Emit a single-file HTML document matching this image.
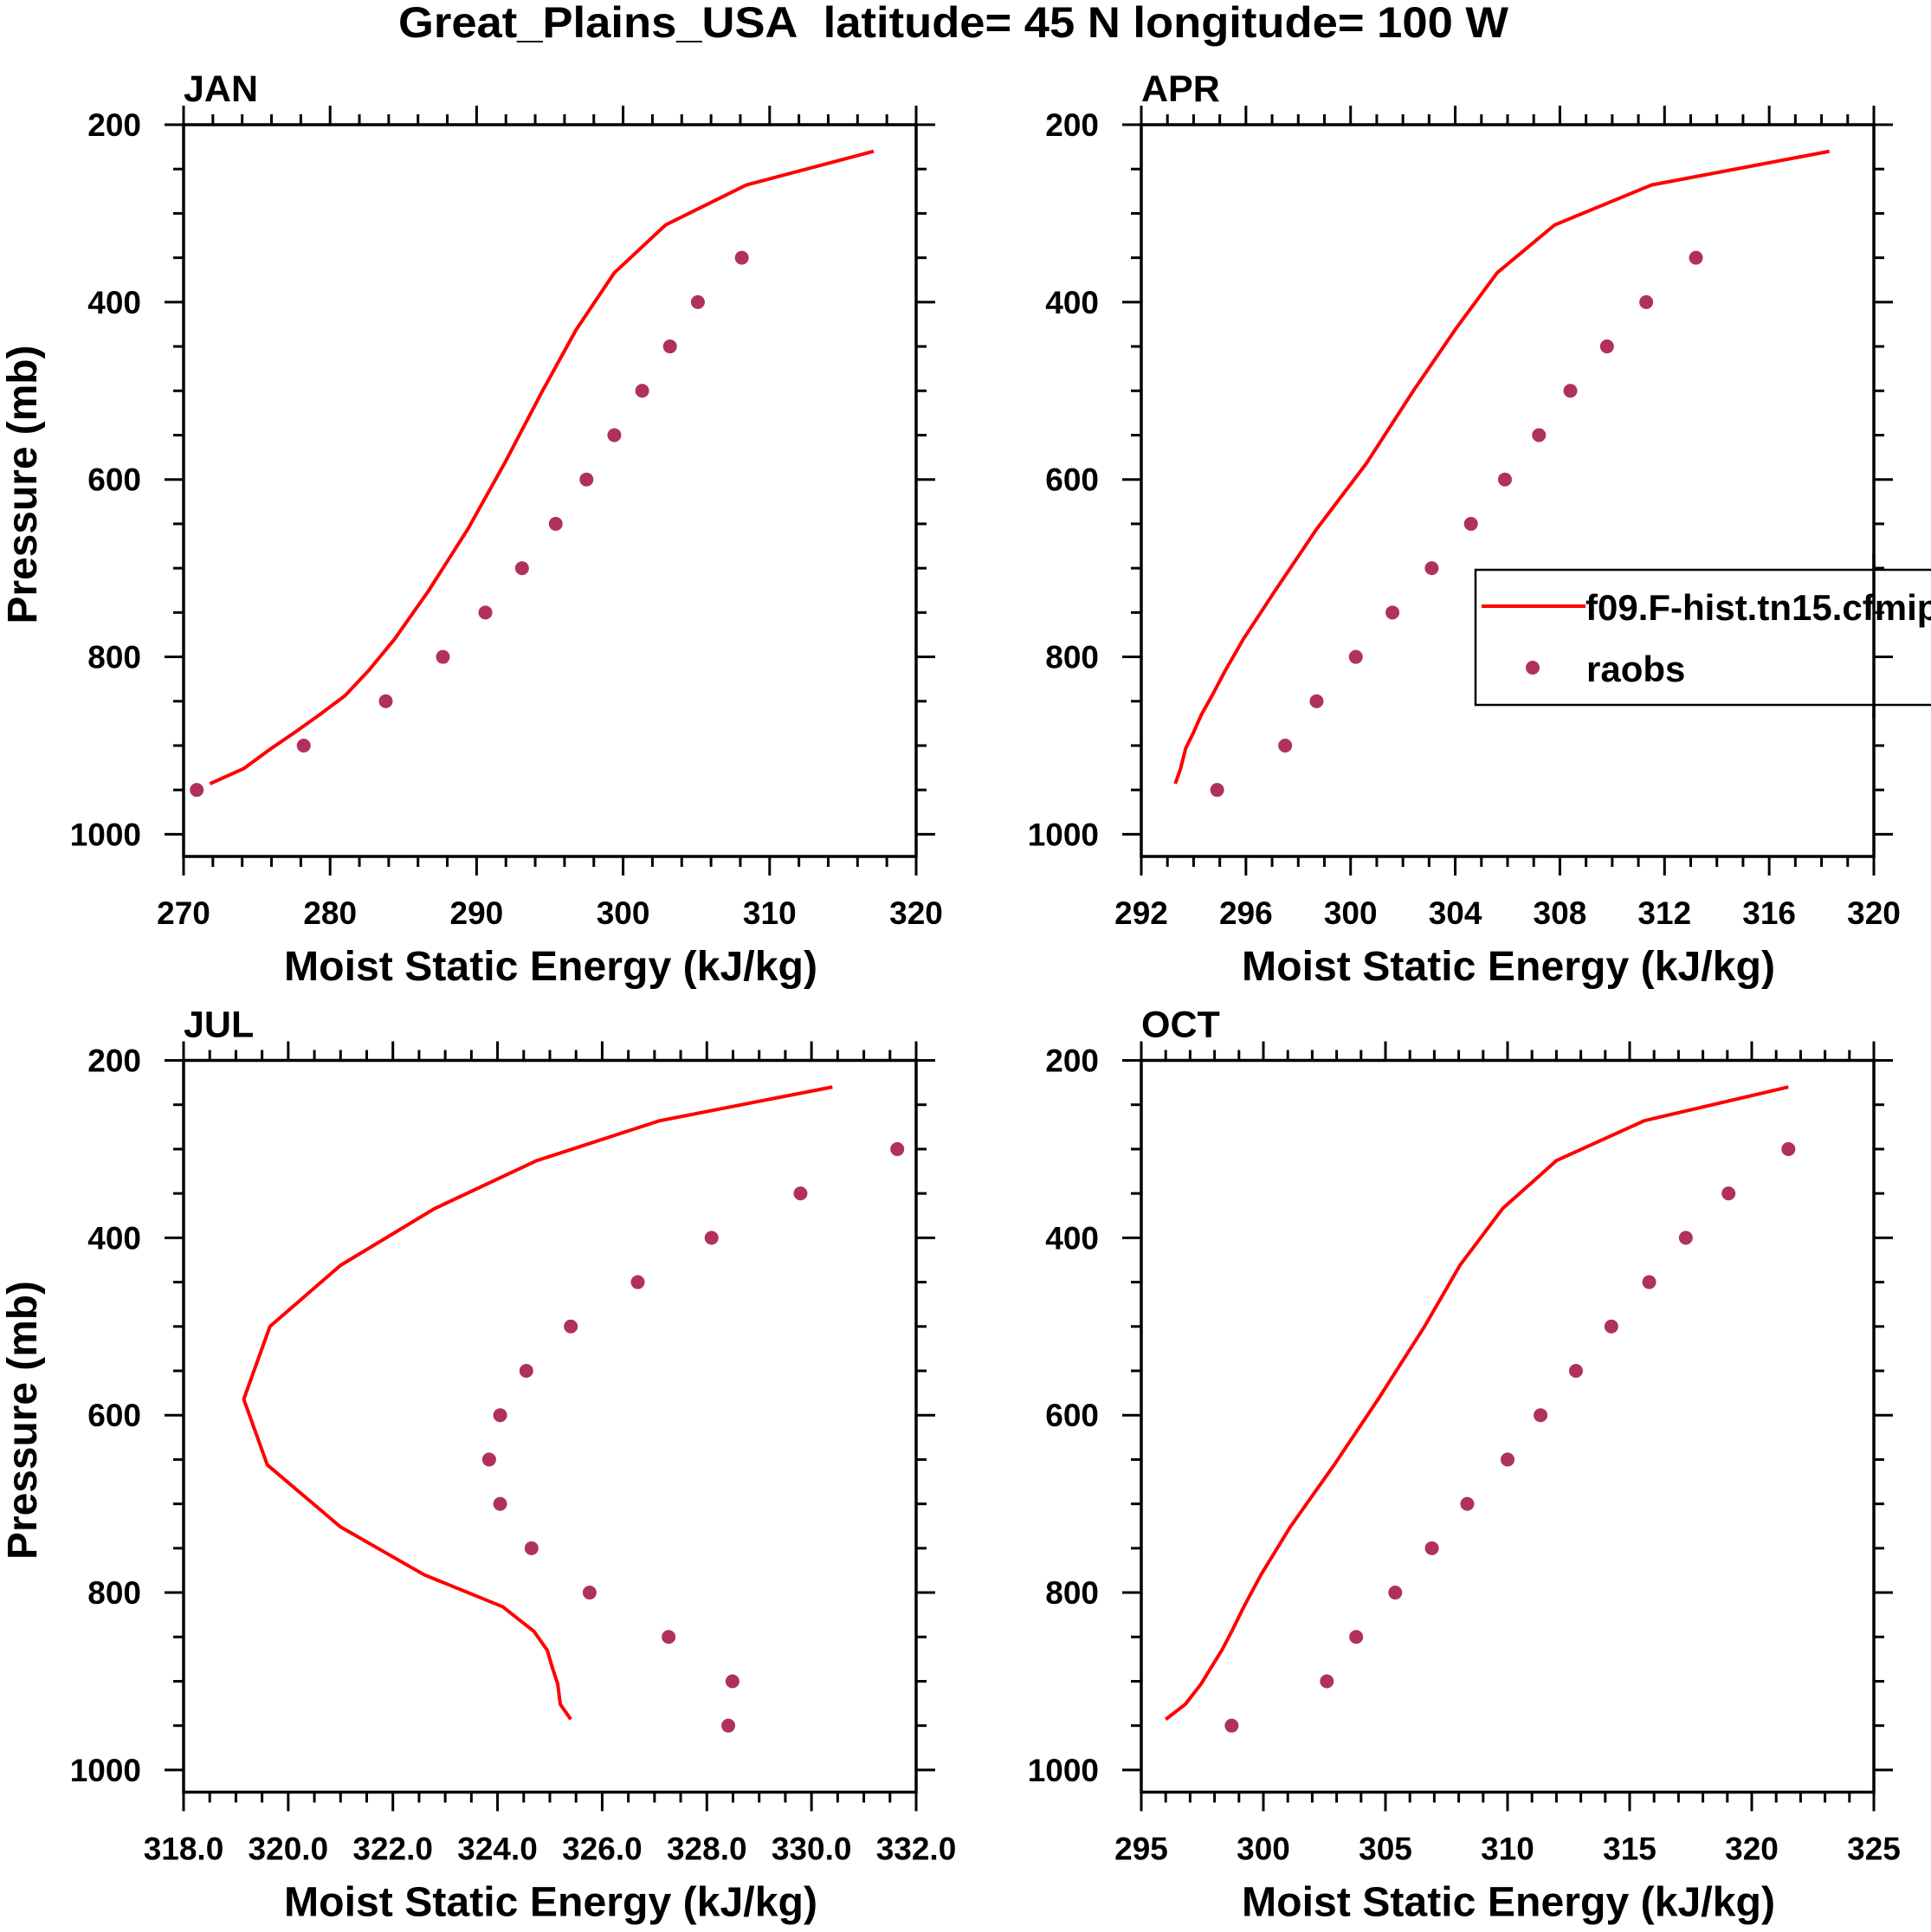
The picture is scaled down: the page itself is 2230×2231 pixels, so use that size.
<!DOCTYPE html>
<html><head><meta charset="utf-8"><style>html,body{margin:0;padding:0;background:#fff}svg{display:block}text{font-family:"Liberation Sans",sans-serif;font-weight:bold;fill:#000;white-space:pre}</style></head>
<body>
<svg id="fig" width="2230" height="2231" viewBox="0 0 2230 2231" xmlns="http://www.w3.org/2000/svg">
<rect width="2230" height="2231" fill="#fff"/>
<text x="1101" y="43" font-size="50" text-anchor="middle" textLength="1282" lengthAdjust="spacingAndGlyphs" xml:space="preserve">Great_Plains_USA&#160; latitude= 45 N longitude= 100 W</text>
</svg>
<script>
const pLevels=[230,268,313,367,431,500,582,656,726,780,816,844,865,885,903,926,943];
const janModel=[317.1,308.4,302.9,299.4,296.8,294.5,291.9,289.4,286.7,284.4,282.6,281.0,279.3,277.6,276.0,274.1,271.8];
const aprModel=[318.3,311.5,307.8,305.6,304.0,302.4,300.6,298.7,297.1,295.9,295.2,294.7,294.3,294.0,293.7,293.5,293.3];
const julModel=[330.4,327.1,324.75,322.8,321.0,319.65,319.15,319.6,321.0,322.6,324.1,324.7,324.95,325.05,325.15,325.2,325.4];
const octModel=[321.5,315.6,312.0,309.8,308.05,306.6,304.7,302.9,301.1,299.9,299.2,298.7,298.3,297.85,297.45,296.8,296.0];
const obsP350=[350,400,450,500,550,600,650,700,750,800,850,900,950];
const obsP300=[300,350,400,450,500,550,600,650,700,750,800,850,900,950];
const janObs=[308.1,305.1,303.2,301.3,299.4,297.5,295.4,293.1,290.6,287.7,283.8,278.2,270.9];
const aprObs=[313.2,311.3,309.8,308.4,307.2,305.9,304.6,303.1,301.6,300.2,298.7,297.5,294.9];
const julObs=[331.64,329.79,328.09,326.68,325.4,324.55,324.05,323.84,324.05,324.65,325.76,327.27,328.49,328.41];
const octObs=[321.5,319.05,317.3,315.8,314.25,312.8,311.35,310.0,308.35,306.9,305.4,303.8,302.6,298.7];
const yTickLabels=["200","400","600","800","1000"];
const janXTicks=["270","280","290","300","310","320"];
const aprXTicks=["292","296","300","304","308","312","316","320"];
const julXTicks=["318.0","320.0","322.0","324.0","326.0","328.0","330.0","332.0"];
const octXTicks=["295","300","305","310","315","320","325"];

const NS="http://www.w3.org/2000/svg";
const svg=document.getElementById('fig');
function mk(tag,attrs,parent){const e=document.createElementNS(NS,tag);for(const k in attrs)e.setAttribute(k,attrs[k]);(parent||svg).appendChild(e);return e;}
const panels=[
 {name:'jan',label:'JAN',L:212,T:144,xmin:270,xmax:320,minor:2,ticks:janXTicks,model:janModel,obsP:obsP350,obs:janObs},
 {name:'apr',label:'APR',L:1318,T:144,xmin:292,xmax:320,minor:1,ticks:aprXTicks,model:aprModel,obsP:obsP350,obs:aprObs,legend:true},
 {name:'jul',label:'JUL',L:212,T:1224.5,xmin:318,xmax:332,minor:0.5,ticks:julXTicks,model:julModel,obsP:obsP300,obs:julObs},
 {name:'oct',label:'OCT',L:1318,T:1224.5,xmin:295,xmax:325,minor:1,ticks:octXTicks,model:octModel,obsP:obsP300,obs:octObs}
];
const W=846,H=845,PMIN=200,PMAX=1025;
panels.forEach(pn=>{
 const g=mk('g',{});
 
 
 const xs=v=>pn.L+(v-pn.xmin)/(pn.xmax-pn.xmin)*W;
 const ys=p=>pn.T+(p-PMIN)/(PMAX-PMIN)*H;
 const B=pn.T+H,R=pn.L+W;
 const tg=mk('g',{stroke:'#000','stroke-width':3},g);
 
 
 const n=Math.round((pn.xmax-pn.xmin)/pn.minor);
 const majStep=(pn.xmax-pn.xmin)/(pn.ticks.length-1);
 for(let i=0;i<=n;i++){const v=pn.xmin+i*pn.minor;const major=Math.abs(((v-pn.xmin)/majStep)-Math.round((v-pn.xmin)/majStep))<1e-6;const len=major?22:12;const x=xs(v);
  mk('line',{x1:x,x2:x,y1:B,y2:B+len},tg);mk('line',{x1:x,x2:x,y1:pn.T,y2:pn.T-len},tg);}
 for(let p=200;p<=1000;p+=50){const major=p%200===0;const len=major?22:12;const y=ys(p);
  mk('line',{x1:pn.L,x2:pn.L-len,y1:y,y2:y},tg);mk('line',{x1:R,x2:R+len,y1:y,y2:y},tg);}
 pn.ticks.forEach((t,i)=>{const v=pn.xmin+i*majStep;const e=mk('text',{x:xs(v),y:B+78,'font-size':37,'text-anchor':'middle'},g);e.textContent=t;
  
  });
 yTickLabels.forEach((t,i)=>{const e=mk('text',{x:pn.L-49,y:ys(200+i*200)+13,'font-size':37,'text-anchor':'end'},g);e.textContent=t;
  
  });
 const fr=mk('rect',{x:pn.L,y:pn.T,width:W,height:H,fill:'none',stroke:'#000','stroke-width':3.5},g);
 
 
 const pts=pn.model.map((v,i)=>xs(v)+','+ys(pLevels[i])).join(' ');
 const pl=mk('polyline',{points:pts,fill:'none',stroke:'#ff0000','stroke-width':4,'stroke-linejoin':'round'},g);
 
 
 pn.obs.forEach((v,i)=>{const c=mk('circle',{cx:xs(v),cy:ys(pn.obsP[i]),r:8,fill:'#b03060'},g);
  
  });
 const lb=mk('text',{x:pn.L,y:pn.T-27,'font-size':43},g);lb.textContent=pn.label;
 
 
 const xt=mk('text',{x:pn.L+W/2+1,y:B+143,'font-size':48,'text-anchor':'middle',textLength:616,lengthAdjust:'spacingAndGlyphs'},g);xt.textContent='Moist Static Energy (kJ/kg)';
 
 
 if(pn.L<1000){const cy=pn.T+H/2-7;const yt=mk('text',{x:0,y:0,'font-size':48,'text-anchor':'middle',transform:'translate(42,'+cy+') rotate(-90)',textLength:322,lengthAdjust:'spacingAndGlyphs'},g);yt.textContent='Pressure (mb)';
  
  }
 if(pn.legend){const lg=mk('g',{},g);
  
  
  mk('rect',{x:1704,y:658,width:560,height:156,fill:'#fff',stroke:'#000','stroke-width':2.5},lg);
  mk('line',{x1:1711,x2:1831,y1:700,y2:700,stroke:'#ff0000','stroke-width':4},lg);
  const t1=mk('text',{x:1831,y:716,'font-size':42},lg);t1.textContent='f09.F-hist.tn15.cfmip_run';
  
  
  mk('circle',{cx:1770,cy:771,r:8,fill:'#b03060'},lg);
  const t2=mk('text',{x:1832,y:787,'font-size':42},lg);t2.textContent='raobs';
  
  
  mk('line',{x1:R,x2:R,y1:640,y2:830,stroke:'#000','stroke-width':3.5},lg);
  [700,750,800].forEach(p=>{const len=p%200===0?22:12;mk('line',{x1:R,x2:R+len,y1:ys(p),y2:ys(p),stroke:'#000','stroke-width':3},lg);});
 }
});
</script>
</body></html>
